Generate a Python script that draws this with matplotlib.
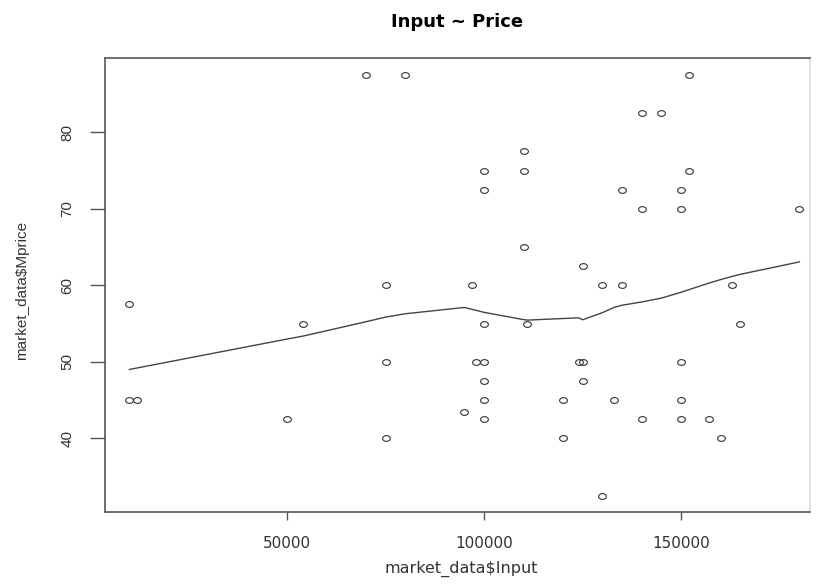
import numpy as np
import matplotlib
matplotlib.use('Agg')
import matplotlib.pyplot as plt
from matplotlib.path import Path
from matplotlib.transforms import Affine2D

# market data
input_vals = [10000, 10000, 12000, 50000, 54000, 70000, 75000, 75000, 75000, 80000,
              95000, 97000, 98000, 100000, 100000, 100000, 100000, 100000, 100000, 100000,
              110000, 110000, 110000, 111000, 120000, 120000, 124000, 125000, 125000, 125000,
              130000, 130000, 133000, 135000, 135000, 140000, 140000, 140000, 145000, 150000,
              150000, 150000, 150000, 150000, 152000, 152000, 157000, 160000, 163000, 165000,
              180000]
price_vals = [57.5, 45, 45, 42.5, 55, 87.5, 60, 50, 40, 87.5,
              43.5, 60, 50, 75, 72.5, 55, 50, 47.5, 45, 42.5,
              77.5, 75, 65, 55, 45, 40, 50, 50, 62.5, 47.5,
              60, 32.5, 45, 72.5, 60, 82.5, 70, 42.5, 82.5, 72.5,
              70, 50, 45, 42.5, 87.5, 75, 42.5, 40, 60, 55,
              70]
x_ticks = [50000, 100000, 150000]
y_ticks = [40, 50, 60, 70, 80]


def lowess(x, y, f=2/3, iters=3):
    # same algorithm as R's lowess()
    order = np.argsort(x, kind='stable')
    x = np.asarray(x, float)[order]
    y = np.asarray(y, float)[order]
    n = len(x)
    ns = max(min(int(f * n + 1e-7), n), 2)
    rw = np.ones(n)
    ys = y.copy()
    for it in range(iters + 1):
        for i in range(n):
            d = np.abs(x - x[i])
            h = np.sort(d)[ns - 1]
            if h > 0:
                r = d / h
                w = np.where(r <= 0.001, 1.0, (1 - np.clip(r, 0, 1) ** 3) ** 3)
                w[r > 0.999] = 0
            else:
                w = (d == 0).astype(float)
            w = w * rw
            if w.sum() <= 0:
                ys[i] = y[i]
                continue
            w = w / w.sum()
            xm = (w * x).sum()
            c = (w * (x - xm) ** 2).sum()
            if np.sqrt(c) > 0.001 * (x[-1] - x[0]):
                w = w * (1 + (x[i] - xm) / c * (x - xm))
            ys[i] = (w * y).sum()
        if it == iters:
            break
        res = y - ys
        cmad = 6 * np.median(np.abs(res))
        if cmad == 0:
            break
        u = np.abs(res) / cmad
        rw = np.where(u < 1, (1 - u ** 2) ** 2, 0)
        rw[u <= 0.001] = 1
    return x, ys


# reference image is stretched sideways, so use oval markers
circ = Path.unit_circle()
oval = circ.transformed(Affine2D().scale(1.35, 1.0))

fig = plt.figure(figsize=(8.17, 5.85), dpi=100)
ax = fig.add_axes([105 / 817, 73 / 585, 705 / 817, 454 / 585])

ax.plot(input_vals, price_vals, linestyle='none', marker=oval, markersize=5.6,
        markerfacecolor='none', markeredgecolor='#333333', markeredgewidth=0.8)

lx, ly = lowess(input_vals, price_vals)
ax.plot(lx, ly, color='#444444', linewidth=1.0)

ax.set_xlim(3800, 182700)
ax.set_ylim(30.37, 89.71)
ax.set_xticks(x_ticks)
ax.set_xticklabels([str(t) for t in x_ticks], fontsize=11, family='DejaVu Sans', color='#333333')
ax.set_yticks(y_ticks)
ax.set_yticklabels([str(t) for t in y_ticks], fontsize=11, family='Liberation Sans',
                   rotation=90, va='center', color='#333333')
ax.tick_params(axis='x', length=6, width=1, color='#555555', pad=11)
ax.tick_params(axis='y', length=11, width=1, color='#555555', pad=11)

for s in ax.spines.values():
    s.set_color('#555555')
    s.set_linewidth(1.2)
ax.spines['right'].set_color('#dddddd')

ax.set_title('Input ~ Price', fontsize=13, fontweight='bold', family='DejaVu Sans', pad=22)
ax.set_xlabel('market_data$Input', fontsize=11.5, family='DejaVu Sans', color='#333333')
ax.xaxis.set_label_coords(0.506, -0.108)
ax.set_ylabel('market_data$Mprice', fontsize=11, family='Liberation Sans', color='#333333')
ax.yaxis.set_label_coords(-0.118, 0.487)
ax.yaxis.label.set_va('center')

plt.savefig('out.png', dpi=100)
